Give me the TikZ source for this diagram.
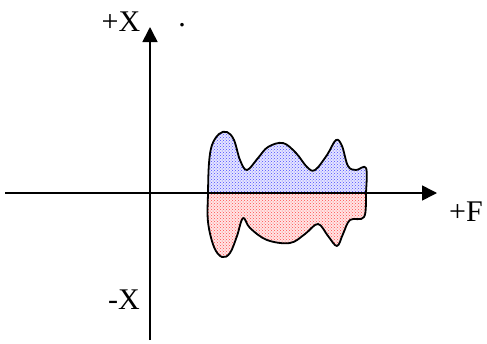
\documentclass[tikz,border=0pt]{standalone}
\usepackage{fontspec}
\setmainfont{Liberation Serif}
\usetikzlibrary{arrows.meta,patterns}

\newcommand{\blobpath}{plot[smooth cycle, tension=0.6] coordinates {
  (208,193) (209,163) (212,145) (219,134) (227,132) (234,140) (240,160) (247,170)
  (258,158) (268,147) (283,143) (296,153) (307,167) (315,170) (327,155)
  (336,140) (342,146) (348,166) (356,170) (366,168) (366,193)
  (364,217) (350,220) (343,234) (337,246) (328,236) (318,224) (305,234)
  (290,243) (267,240) (250,228) (243,218) (237,236) (230,253) (222,257)
  (214,247) (208,222)}}

\begin{document}
\begin{tikzpicture}[
  x=1pt,
  y=-1pt,
  >={Triangle[length=15pt,width=15pt]},
  axis/.style={->, line width=1.6pt},
  outline/.style={line width=1.8pt, line join=round},
  label/.style={font=\fontsize{30}{32}\selectfont, inner sep=0pt}
]
\useasboundingbox (0,0) rectangle (487,343);
% halves of the blob
\begin{scope}
  \clip (180,100) rectangle (400,193);
  \fill[blue!10] \blobpath;
  \fill[pattern=crosshatch dots, pattern color=blue!70] \blobpath;
\end{scope}
\begin{scope}
  \clip (180,193) rectangle (400,290);
  \fill[red!10] \blobpath;
  \fill[pattern=crosshatch dots, pattern color=red!70] \blobpath;
\end{scope}
\draw[outline] \blobpath;
% axes
\coordinate (fstart) at (5,193);
\coordinate (ftip) at (437,193);
\coordinate (xstart) at (150,340);
\coordinate (xtip) at (150,27);
\draw[axis] (fstart) -- (ftip);
\draw[axis] (xstart) -- (xtip);
% labels
\node[label] (plusx) at (121,22) {+X};
\node[label] (dot) at (182,25) {.};
\node[label] (plusf) at (466,212) {+F};
\node[label] (minusx) at (124,300) {-X};
\end{tikzpicture}
\end{document}
